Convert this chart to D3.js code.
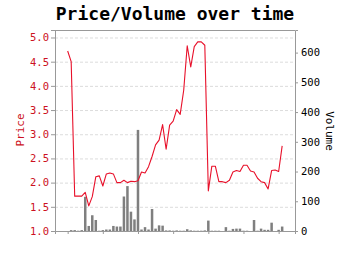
<!DOCTYPE html>
<html>
<head>
<meta charset="utf-8">
<script src="https://cdn.jsdelivr.net/npm/d3@7"></script>
<style>
  html, body { margin: 0; padding: 0; background: #fff; }
  svg { display: block; }
</style>
</head>
<body>
<svg id="chart" width="350" height="255"></svg>
<script>
const title = "Price/Volume over time";
const priceTicks = [1.0, 1.5, 2.0, 2.5, 3.0, 3.5, 4.0, 4.5, 5.0];
const volumeTicks = [0, 100, 200, 300, 400, 500, 600];
const xTicks = [0, 10, 20, 30, 40, 50, 60];
const price = [
  4.72, 4.50, 1.72, 1.72, 1.72, 1.80, 1.52, 1.71, 2.12, 2.14,
  1.93, 2.18, 2.20, 2.18, 2.00, 2.00, 2.05, 2.00, 2.03, 2.02,
  2.04, 2.22, 2.20, 2.33, 2.54, 2.78, 2.88, 3.20, 2.69, 3.19,
  3.27, 3.51, 3.41, 3.91, 4.83, 4.39, 4.81, 4.91, 4.91, 4.84,
  1.83, 2.34, 2.34, 2.02, 2.02, 2.00, 2.05, 2.22, 2.25, 2.23,
  2.36, 2.36, 2.24, 2.22, 2.09, 2.02, 2.00, 1.87, 2.25, 2.26,
  2.23, 2.76
];
const volume = [
  0, 3, 3, 1, 3, 115, 17, 53, 37, 1,
  3, 5, 5, 17, 15, 15, 116, 151, 65, 39,
  340, 5, 13, 5, 74, 8, 19, 18, 2, 2,
  1, 2, 1, 1, 6, 2, 1, 1, 1, 2,
  35, 1, 1, 1, 0, 13, 1, 7, 8, 8,
  1, 1, 0, 37, 1, 8, 4, 4, 28, 0,
  4, 15
];

const svg = d3.select("#chart");
const L = 55, R = 295, T = 30, B = 231;
const mono = "'DejaVu Sans Mono', monospace";
const red = "#cc1122";

const x = d3.scaleLinear().domain([-3.6, 64.65]).range([L, R]);
const yP = d3.scaleLinear().domain([1.0, 5.155]).range([B, T]);
const yV = d3.scaleLinear().domain([0, 676]).range([B, T]);

// grid
svg.append("g").selectAll("line").data(priceTicks).join("line")
  .attr("x1", L).attr("x2", R)
  .attr("y1", d => yP(d) + 0.5).attr("y2", d => yP(d) + 0.5)
  .attr("stroke", "#dcdcdc").attr("stroke-dasharray", "3,2").attr("stroke-width", 1);

// top border
svg.append("line").attr("x1", L).attr("x2", R).attr("y1", T + 0.5).attr("y2", T + 0.5)
  .attr("stroke", "#999");

// bars
svg.append("g").selectAll("rect").data(volume).join("rect")
  .attr("x", (d, i) => x(i) - 1.25)
  .attr("width", 2.5)
  .attr("y", d => yV(d))
  .attr("height", d => B - yV(d))
  .attr("fill", "#7f7f7f");

// line
svg.append("path").datum(price)
  .attr("fill", "none").attr("stroke", "#e8102a").attr("stroke-width", 1.1)
  .attr("stroke-linejoin", "round")
  .attr("d", d3.line().x((d, i) => x(i)).y(d => yP(d)));

// axes
const gl = svg.append("g").attr("transform", `translate(${L},0)`)
  .call(d3.axisLeft(yP).tickValues(priceTicks).tickFormat(d3.format(".1f")).tickSize(4).tickPadding(2));
gl.selectAll("text").attr("fill", red).style("font-family", mono).style("font-size", "10.5px");
gl.selectAll("line,path").attr("stroke", "#999");

const gr = svg.append("g").attr("transform", `translate(${R},0)`)
  .call(d3.axisRight(yV).tickValues(volumeTicks).tickSize(3).tickPadding(3));
gr.selectAll("text").attr("fill", "#000").style("font-family", mono).style("font-size", "10.5px");
gr.selectAll("line,path").attr("stroke", "#999");

const gb = svg.append("g").attr("transform", `translate(0,${B})`)
  .call(d3.axisBottom(x).tickValues(xTicks).tickFormat("").tickSize(3));
gb.selectAll("line,path").attr("stroke", "#999");

// labels
svg.append("text").attr("x", 175).attr("y", 20).attr("text-anchor", "middle")
  .style("font-family", mono).style("font-size", "18px").style("font-weight", "bold")
  .text(title);

svg.append("text").attr("transform", "translate(24,130) rotate(-90)")
  .attr("text-anchor", "middle").attr("fill", red)
  .style("font-family", mono).style("font-size", "11px").text("Price");

svg.append("text").attr("transform", "translate(326,131) rotate(90)")
  .attr("text-anchor", "middle").attr("fill", "#000")
  .style("font-family", mono).style("font-size", "11px").text("Volume");
</script>
</body>
</html>
